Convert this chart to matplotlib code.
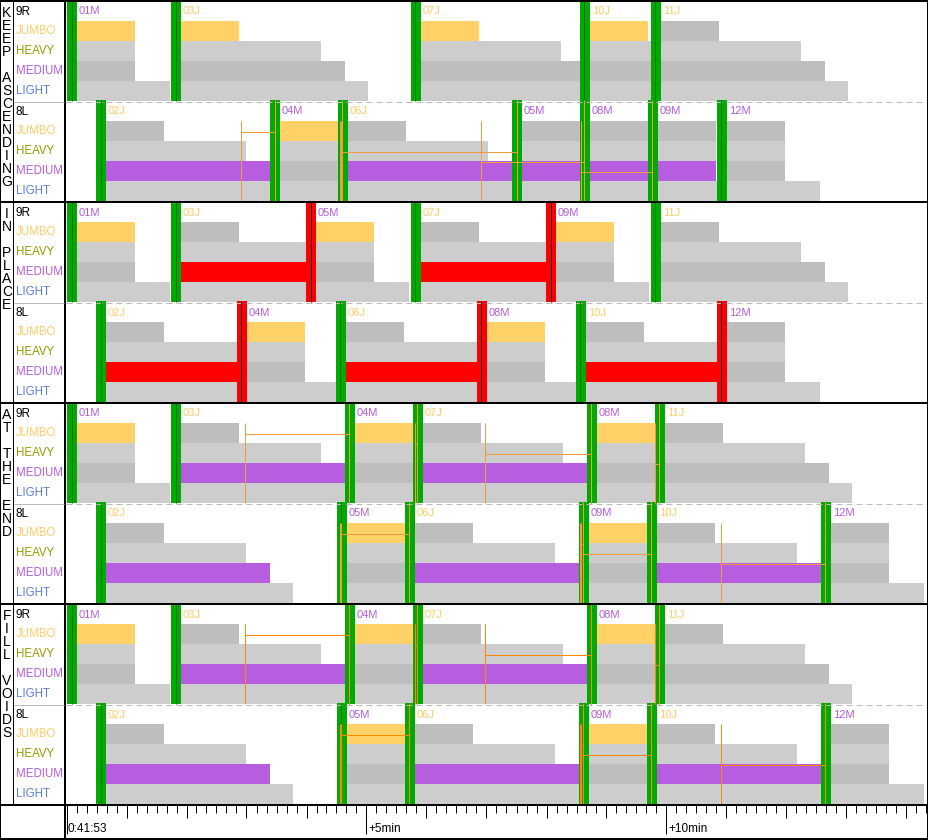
import matplotlib
matplotlib.use("Agg")
import matplotlib.pyplot as plt
import numpy as np

plt.rcParams['font.family'] = ['Liberation Sans', 'DejaVu Sans']

STRATEGIES = ["KEEP ASCENDING", "IN PLACE", "AT THE END", "FILL VOIDS"]
RUNWAYS = ["9R", "8L"]
CLASSES = ["JUMBO", "HEAVY", "MEDIUM", "LIGHT"]
START_LABEL = "0:41:53"
AXIS_MARKS = ["+5min", "+10min"]

# wake separation (s) behind a leader, for a JUMBO/HEAVY/MEDIUM/LIGHT follower
SEP_BEHIND_J = [68, 150, 174, 197]
SEP_BEHIND_M = [68, 68, 68, 103]

# times in seconds after 0:41:53, eta = requested slot on that runway (None = not shown)
keep_9r_flights = ["01M", "03J", "07J", "10J", "11J"]
keep_9r_times = [1, 105, 345, 514, 585]
keep_9r_eta = [None, None, None, None, None]
keep_8l_flights = ["02J", "04M", "06J", "05M", "08M", "09M", "12M"]
keep_8l_times = [30, 204, 272, 446, 514, 582, 651]
keep_8l_eta = [None, 171, 270, 271, 411, 511, None]

place_9r_flights = ["01M", "03J", "05M", "07J", "09M", "11J"]
place_9r_times = [1, 105, 240, 345, 480, 585]
place_9r_eta = [None, None, None, None, None, None]
place_8l_flights = ["02J", "04M", "06J", "08M", "10J", "12M"]
place_8l_times = [30, 171, 270, 411, 510, 651]
place_8l_eta = [None, None, None, None, None, None]

end_9r_flights = ["01M", "03J", "04M", "07J", "08M", "11J"]
end_9r_times = [1, 105, 279, 347, 521, 589]
end_9r_eta = [None, None, 175, 345, 415, 585]
end_8l_flights = ["02J", "05M", "06J", "09M", "10J", "12M"]
end_8l_times = [30, 271, 339, 513, 581, 755]
end_8l_eta = [None, 271, 270, 511, 510, 651]

fill_9r_flights = ["01M", "03J", "04M", "07J", "08M", "11J"]
fill_9r_times = [1, 105, 279, 347, 521, 589]
fill_9r_eta = [None, None, 175, 345, 415, 585]
fill_8l_flights = ["02J", "05M", "06J", "09M", "10J", "12M"]
fill_8l_times = [30, 271, 339, 513, 581, 755]
fill_8l_eta = [None, 271, 270, 511, 510, 651]

panels = [
    [(keep_9r_flights, keep_9r_times, keep_9r_eta), (keep_8l_flights, keep_8l_times, keep_8l_eta)],
    [(place_9r_flights, place_9r_times, place_9r_eta), (place_8l_flights, place_8l_times, place_8l_eta)],
    [(end_9r_flights, end_9r_times, end_9r_eta), (end_8l_flights, end_8l_times, end_8l_eta)],
    [(fill_9r_flights, fill_9r_times, fill_9r_eta), (fill_8l_flights, fill_8l_times, fill_8l_eta)],
]
sep_behind = {"J": SEP_BEHIND_J, "M": SEP_BEHIND_M}

label_colors = ["#FFCC66", "#999900", "#B45CE0", "#5B7FE0"]
flight_colors = {"J": "#FFCC66", "M": "#B45CE0"}
hilite = {"J": "#FFD166", "M": "#B65DE0"}
row_grays = ["#BEBEBE", "#CDCDCD", "#BEBEBE", "#CDCDCD"]
GREEN, DKGREEN, RED = "#00AA00", "#006E00", "#FF0000"
orange_col = ["#F39A3C", "#F39A3C", "#F39A3C", "#FF8800"]
PX = 0.72  # one pixel in points

W, H = 929, 840
fig = plt.figure(figsize=(W / 100, H / 100), dpi=100)
X0, X1, YB = 66, 927, 804
ax = fig.add_axes([X0 / W, 1 - YB / H, (X1 - X0) / W, YB / H])
ax.set_xlim(0, X1 - X0)
ax.set_ylim(YB, 0)
ax.axis("off")

for s, pair in enumerate(panels):
    oc = orange_col[s]
    for r, (flights, times, etas) in enumerate(pair):
        sub_top = s * 201 + r * 100
        row_top = sub_top + 21
        sub_bot = sub_top + 101
        n = len(flights)
        late = 0
        for i in range(n):
            cls = flights[i][-1]
            t = times[i]
            nxt = flights[i + 1][-1] if i + 1 < n else None
            for k in range(4):
                color = row_grays[k]
                if nxt is not None and CLASSES[k][0] == nxt:
                    clash = t + sep_behind[cls][k] > times[i + 1] + 0.5
                    color = RED if clash else hilite[nxt]
                ax.barh(row_top + 20 * k, sep_behind[cls][k], left=t, height=20,
                        align="edge", color=color, lw=0, zorder=2)
            prev_clash = False
            if i > 0:
                pcls = flights[i - 1][-1]
                k_self = [c[0] for c in CLASSES].index(cls)
                prev_clash = times[i - 1] + sep_behind[pcls][k_self] > t + 0.5
            bar_col = RED if prev_clash else GREEN
            line_col = "black" if prev_clash else DKGREEN
            ax.bar(t, 101, bottom=sub_top, width=10, align="edge", color=bar_col,
                   lw=0, zorder=3)
            ax.vlines(t + 4.5, sub_top, sub_bot, color=line_col, lw=PX, zorder=4)
            ax.text(t + 12, sub_top + 11.5, flights[i], color=flight_colors[cls],
                    fontsize=8, va="center", ha="left", zorder=6)
            eta = etas[i]
            if eta is not None:
                if t > eta + 0.5:
                    late += 1
                    ax.vlines(t + 4.5, sub_top, sub_bot, color=oc, lw=PX, zorder=5)
                    ax.hlines(row_top + 10 * late + 0.5, eta + 4.5, t + 4.5, color=oc,
                              lw=PX, zorder=5)
                ax.vlines(eta + 4.5, row_top, sub_bot, color=oc, lw=PX, zorder=5)
        if r == 0:
            ax.hlines(sub_bot + 0.5, 0, X1 - X0, color="#BBBBBB", lw=PX,
                      linestyles=(0, (6, 4)), zorder=4)

# bottom time axis
axt = fig.add_axes([X0 / W, (H - 838) / H, (X1 - X0) / W, (838 - 805) / H])
axt.set_xlim(0, X1 - X0)
axt.set_ylim(838, 805)
for sp in axt.spines.values():
    sp.set_visible(False)
axt.set_yticks([])
axt.xaxis.set_ticks_position("top")
axt.set_xticks(np.arange(0, X1 - X0, 60) + 0.5)
axt.set_xticks(np.arange(0, X1 - X0, 10) + 0.5, minor=True)
axt.tick_params(axis="x", which="major", direction="in", length=13 * PX, width=PX,
                labeltop=False, labelbottom=False)
axt.tick_params(axis="x", which="minor", direction="in", length=8 * PX, width=PX)
axt.vlines(np.array([0, 300, 600]) + 0.5, 805, 834, color="black", lw=PX)
for x, lab in zip([0, 300, 600], [START_LABEL] + AXIS_MARKS):
    axt.text(x + 2, 829, lab, fontsize=8.5, va="center", ha="left")

# frame, label column
bg = fig.add_axes([0, 0, 1, 1])
bg.set_xlim(0, W)
bg.set_ylim(H, 0)
bg.axis("off")
bg.patch.set_visible(False)
bg.set_zorder(10)
for s in range(4):
    bg.hlines(201 * s + 1, 0, W, color="black", lw=2 * PX)
bg.hlines(805, 0, W, color="black", lw=2 * PX)
bg.hlines(839, 0, W, color="black", lw=2 * PX)
bg.vlines(0.5, 0, H, color="black", lw=PX)
bg.vlines(928, 0, H, color="black", lw=2 * PX)
bg.vlines(65, 0, H, color="black", lw=2 * PX)
bg.vlines(13.5, 0, 804, color="black", lw=PX)
for s, name in enumerate(STRATEGIES):
    top = 201 * s
    for j, ch in enumerate(name):
        if ch != " ":
            bg.text(7, top + 13 + 13 * j, ch, fontsize=10, ha="center", va="center")
    for r, rw in enumerate(RUNWAYS):
        sub_top = top + 100 * r
        bg.text(16, sub_top + 12, rw, fontsize=8.5, va="center", ha="left")
        for k, c in enumerate(CLASSES):
            bg.text(16, sub_top + 31 + 20 * k, c, fontsize=8.3, color=label_colors[k],
                    va="center", ha="left")
    bg.hlines(top + 101.5, 14, 64, color="#BBBBBB", lw=PX)

fig.savefig("out.png", dpi=100)
